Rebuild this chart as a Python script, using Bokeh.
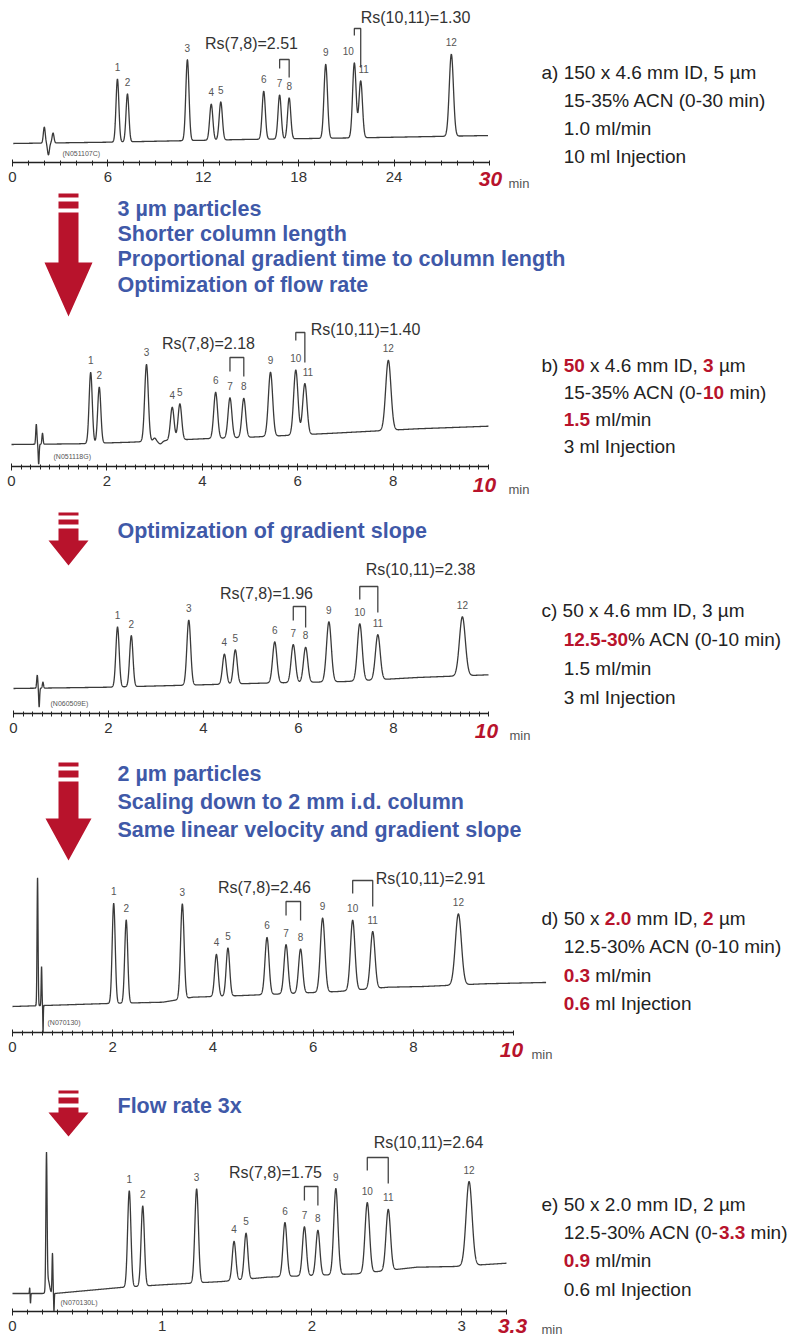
import numpy as np
from bokeh.plotting import figure
from bokeh.models import Range1d, LinearAxis, FixedTicker
from bokeh.layouts import column
from bokeh.embed import file_html
from bokeh.resources import INLINE
from bokeh.core.properties import value

# ------------------------------------------------------------------ data
peak_names = [str(i) for i in range(1, 13)]

# a) 150 x 4.6 mm, 30 min
a_rt = [6.6, 7.23, 11.0, 12.5, 13.1, 15.8, 16.8, 17.4, 19.7, 21.5, 21.9, 27.6]
a_height = [63, 48, 81, 36, 38, 48, 44, 41, 74, 75, 57, 82]
a_sigma = [0.09, 0.09, 0.10, 0.10, 0.10, 0.10, 0.10, 0.10, 0.11, 0.11, 0.11, 0.13]
a_base_t = [0, 6, 14.5, 23, 30]
a_base_y = [0, 1.3, 4, 6, 8]
a_inj_t = [2.0, 2.26, 2.55]
a_inj_h = [16, -12, 10]
a_inj_sigma = [0.06, 0.06, 0.06]
a_ticks = [0, 6, 12, 18, 24]
a_minor = list(range(0, 31))
a_span = [0.05, 29.9]
a_end = "30"
a_rs = ["Rs(7,8)=2.51", "Rs(10,11)=1.30"]
a_id = "(N051107C)"

# b) 50 x 4.6 mm, 3 um, 10 min
b_rt = [1.66, 1.84, 2.83, 3.37, 3.53, 4.28, 4.58, 4.87, 5.43, 5.96, 6.15, 7.9]
b_height = [71, 56, 77, 33, 36, 46, 40, 39, 64, 65, 51, 70]
b_sigma = [0.033, 0.033, 0.038, 0.038, 0.038, 0.04, 0.04, 0.04, 0.045, 0.045, 0.045, 0.055]
b_base_t = [0, 1.4, 2.5, 4, 5, 6.75, 8.5, 10]
b_base_y = [0, 0.7, 2.3, 5.7, 7.3, 11.3, 15.7, 18.3]
b_inj_t = [0.52, 0.57, 0.65, 3.0, 3.12]
b_inj_h = [20, -20, 11, 3, -3]
b_inj_sigma = [0.012, 0.01, 0.012, 0.03, 0.04]
b_ticks = [0, 2, 4, 6, 8]
b_minor = [round(0.2 * i, 1) for i in range(51)]
b_span = [0.0, 10.0]
b_end = "10"
b_rs = ["Rs(7,8)=2.18", "Rs(10,11)=1.40"]
b_id = "(N051118G)"

# c) gradient slope optimised
c_rt = [2.19, 2.48, 3.69, 4.44, 4.67, 5.5, 5.89, 6.15, 6.64, 7.29, 7.67, 9.45]
c_height = [60, 51, 65, 30, 34, 41, 38, 35, 60, 57, 45, 59]
c_sigma = [0.035, 0.035, 0.04, 0.04, 0.04, 0.045, 0.045, 0.045, 0.05, 0.05, 0.05, 0.062]
c_base_t = [0, 2, 4.2, 5.2, 7, 8.5, 10]
c_base_y = [0, 1.3, 4, 5.3, 7, 11, 13.7]
c_inj_t = [0.5, 0.54, 0.62]
c_inj_h = [13, -19, 6]
c_inj_sigma = [0.012, 0.01, 0.012]
c_ticks = [0, 2, 4, 6, 8]
c_minor = [round(0.2 * i, 1) for i in range(51)]
c_span = [0.0, 10.0]
c_end = "10"
c_rs = ["Rs(7,8)=1.96", "Rs(10,11)=2.38"]
c_id = "(N060509E)"

# d) 2 um, 2.0 mm i.d.
d_rt = [2.02, 2.27, 3.39, 4.07, 4.3, 5.08, 5.46, 5.75, 6.19, 6.79, 7.19, 8.9]
d_height = [100, 83, 95, 42, 48, 57, 49, 44, 74, 70, 57, 71]
d_sigma = [0.03, 0.03, 0.035, 0.035, 0.035, 0.04, 0.04, 0.04, 0.045, 0.045, 0.045, 0.06]
d_base_t = [0, 1.9, 3.0, 3.6, 4.6, 6.5, 7.5, 8.2, 9.4, 10.6]
d_base_y = [0, 3, 4.3, 9.3, 11, 15, 19.3, 20, 22.7, 24]
d_inj_t = [0.5, 0.58, 0.61]
d_inj_h = [128, 39, -27]
d_inj_sigma = [0.01, 0.008, 0.005]
d_ticks = [0, 2, 4, 6, 8]
d_minor = [round(0.2 * i, 1) for i in range(51)]
d_span = [0.0, 10.65]
d_end = "10"
d_rs = ["Rs(7,8)=2.46", "Rs(10,11)=2.91"]
d_id = "(N070130)"

# e) flow rate 3x
e_rt = [0.78, 0.87, 1.23, 1.48, 1.56, 1.82, 1.95, 2.04, 2.16, 2.37, 2.51, 3.05]
e_height = [96, 80, 94, 39, 46, 54, 49, 45, 86, 70, 61, 84]
e_sigma = [0.011, 0.011, 0.012, 0.012, 0.012, 0.013, 0.013, 0.013, 0.014, 0.015, 0.015, 0.02]
e_base_t = [0, 0.28, 0.72, 1.0, 1.4, 1.7, 2.3, 2.7, 2.95, 3.3]
e_base_y = [0, 0, 6, 8.7, 12, 16.3, 19.7, 26.3, 27, 30.3]
e_inj_t = [0.115, 0.12, 0.227, 0.237, 0.267, 0.277]
e_inj_h = [6, -10, 133, 14, 40, -18]
e_inj_sigma = [0.002, 0.002, 0.004, 0.01, 0.003, 0.002]
e_ticks = [0, 1, 2, 3]
e_minor = [round(0.1 * i, 1) for i in range(34)]
e_span = [0.0, 3.3]
e_end = "3.3"
e_rs = ["Rs(7,8)=1.75", "Rs(10,11)=2.64"]
e_id = "(N070130L)"

# conditions (text, emphasised)
a_info = [[("a) 150 x 4.6 mm ID, 5 µm", False)],
          [("15-35% ACN (0-30 min)", False)],
          [("1.0 ml/min", False)],
          [("10 ml Injection", False)]]
b_info = [[("b) ", False), ("50", True), (" x 4.6 mm ID, ", False), ("3", True), (" µm", False)],
          [("15-35% ACN (0-", False), ("10", True), (" min)", False)],
          [("1.5", True), (" ml/min", False)],
          [("3 ml Injection", False)]]
c_info = [[("c) 50 x 4.6 mm ID, 3 µm", False)],
          [("12.5-30", True), ("% ACN (0-10 min)", False)],
          [("1.5 ml/min", False)],
          [("3 ml Injection", False)]]
d_info = [[("d) 50 x ", False), ("2.0", True), (" mm ID, ", False), ("2", True), (" µm", False)],
          [("12.5-30% ACN (0-10 min)", False)],
          [("0.3", True), (" ml/min", False)],
          [("0.6", True), (" ml Injection", False)]]
e_info = [[("e) 50 x 2.0 mm ID, 2 µm", False)],
          [("12.5-30% ACN (0-", False), ("3.3", True), (" min)", False)],
          [("0.9", True), (" ml/min", False)],
          [("0.6 ml Injection", False)]]

notes_b = ["3 µm particles", "Shorter column length",
           "Proportional gradient time to column length", "Optimization of flow rate"]
notes_c = ["Optimization of gradient slope"]
notes_d = ["2 µm particles", "Scaling down to 2 mm i.d. column",
           "Same linear velocity and gradient slope"]
notes_e = ["Flow rate 3x"]

# ------------------------------------------------------------------ style
FONT = "Liberation Sans"
RED = "#B8132C"
BLUE = "#3F59A8"
INK = "#333333"
TRACE = "#3a3a3a"

W_REG = {' ': 278, '%': 889, '(': 333, ')': 333, ',': 278, '-': 333, '.': 278, '/': 278,
         'A': 667, 'C': 722, 'D': 722, 'I': 278, 'N': 722, 'a': 556, 'b': 556, 'c': 500,
         'd': 556, 'e': 556, 'i': 222, 'j': 222, 'l': 222, 'm': 833, 'n': 556, 'o': 556,
         't': 278, 'x': 500, 'µ': 556}


def text_w(s, size):
    return sum(W_REG.get(ch, 556) for ch in s) * size / 1000.0


# layout: pixel positions of each section of the page
layouts = [
    dict(zero=12, scale=15.9, top=0, bottom=192, axis=162, base=143,
         rs78=(251, 43, 59, 68, 77), rs1011=(415, 17, 28, 35, 67),
         id_pos=(62, 153), info_x=541, info_y=[72, 100, 128, 156],
         end_pos=(490, 178), min_pos=(508, 183), lab_dx=[0] * 9 + [-6, 3, 0],
         arrow=None, notes_y=[]),
    dict(zero=11, scale=47.7, top=192, bottom=497, axis=466, base=444,
         rs78=(208, 343, 357, 371, 376), rs1011=(365, 329, 332, 340, 362),
         id_pos=(53, 456), info_x=541, info_y=[365, 392, 419, 446],
         end_pos=(484, 484), min_pos=(508, 489), lab_dx=[0] * 10 + [3, 0],
         arrow=(68, [(193, 197), (201, 208)], 212, 262, 316, 10, 24),
         notes_y=[208, 233, 258, 284]),
    dict(zero=13, scale=47.5, top=497, bottom=743, axis=713, base=688,
         rs78=(266, 593, 606, 620, 627), rs1011=(420, 569, 586, 599, 612),
         id_pos=(50, 703), info_x=541, info_y=[610, 639, 668, 697],
         end_pos=(486, 730), min_pos=(509, 735), lab_dx=[0] * 12,
         arrow=(68, [(512, 515), (519, 524)], 528, 540, 565, 10, 20),
         notes_y=[530]),
    dict(zero=12, scale=50.1, top=743, bottom=1062, axis=1032, base=1006,
         rs78=(264, 887, 901, 915, 920), rs1011=(430, 878, 880, 893, 906),
         id_pos=(47, 1022), info_x=541, info_y=[918, 946, 975, 1003],
         end_pos=(511, 1049), min_pos=(531, 1054), lab_dx=[0] * 12,
         arrow=(68, [(762, 766), (770, 777)], 781, 818, 860, 10, 23),
         notes_y=[773, 801, 829]),
    dict(zero=12, scale=149.7, top=1062, bottom=1338, axis=1311, base=1293,
         rs78=(275, 1172, 1186, 1200, 1205), rs1011=(428, 1142, 1157, 1170, 1183),
         id_pos=(60, 1302), info_x=541, info_y=[1204, 1232, 1260, 1289],
         end_pos=(512, 1325), min_pos=(541, 1329), lab_dx=[0] * 12,
         arrow=(68, [(1090, 1093), (1097, 1103)], 1107, 1112, 1136, 10, 20),
         notes_y=[1105]),
]

panels = [
    (a_rt, a_height, a_sigma, a_base_t, a_base_y, a_inj_t, a_inj_h, a_inj_sigma,
     a_ticks, a_minor, a_span, a_end, a_rs, a_id, a_info, []),
    (b_rt, b_height, b_sigma, b_base_t, b_base_y, b_inj_t, b_inj_h, b_inj_sigma,
     b_ticks, b_minor, b_span, b_end, b_rs, b_id, b_info, notes_b),
    (c_rt, c_height, c_sigma, c_base_t, c_base_y, c_inj_t, c_inj_h, c_inj_sigma,
     c_ticks, c_minor, c_span, c_end, c_rs, c_id, c_info, notes_c),
    (d_rt, d_height, d_sigma, d_base_t, d_base_y, d_inj_t, d_inj_h, d_inj_sigma,
     d_ticks, d_minor, d_span, d_end, d_rs, d_id, d_info, notes_d),
    (e_rt, e_height, e_sigma, e_base_t, e_base_y, e_inj_t, e_inj_h, e_inj_sigma,
     e_ticks, e_minor, e_span, e_end, e_rs, e_id, e_info, notes_e),
]


def make_panel(data, L):
    (rt, hgt, sig, bt, by, it, ih, isg, ticks, minor, span, end_lab, rs, sid, info, notes) = data
    z, s, top, bot, ax, base = L["zero"], L["scale"], L["top"], L["bottom"], L["axis"], L["base"]
    X = lambda px: (px - z) / s
    Y = lambda py: base - py

    p = figure(frame_width=793, frame_height=bot - top,
               x_range=Range1d(X(0), X(793)), y_range=Range1d(Y(bot), Y(top)),
               output_backend="svg", toolbar_location=None,
               x_axis_location=None, y_axis_location=None, min_border=0)
    p.grid.visible = False
    p.outline_line_color = None
    p.background_fill_color = "white"
    p.border_fill_color = "white"

    # chromatogram trace
    dt = min(min(sig), min(isg)) / 5.0
    t = np.arange(span[0], span[1] + dt, dt)
    y = np.interp(t, bt, by)
    for r, h, w in zip(list(rt) + list(it), list(hgt) + list(ih), list(sig) + list(isg)):
        y = y + h * np.exp(-0.5 * ((t - r) / w) ** 2)
    p.line(t, y, line_color=TRACE, line_width=1.3)

    # peak numbers
    apex = np.interp(rt, bt, by) + np.array(hgt)
    p.text(x=[r + dx / s for r, dx in zip(rt, L["lab_dx"])], y=list(apex + 12),
           text=peak_names, text_font=value(FONT), text_font_size="10px",
           text_align="center", text_baseline="middle", text_color="#555555")

    # resolution brackets
    for (i, j), label, (cx, cy, btop, lb, rb) in zip([(6, 7), (9, 10)], rs, [L["rs78"], L["rs1011"]]):
        p.line([rt[i], rt[i], rt[j], rt[j]], [Y(lb), Y(btop), Y(btop), Y(rb)],
               line_color="#444444", line_width=1.3)
        p.text(x=[X(cx)], y=[Y(cy)], text=[label], text_font=value(FONT),
               text_font_size="16px", text_align="center", text_baseline="middle",
               text_color=INK)

    # sample id
    p.text(x=[X(L["id_pos"][0])], y=[Y(L["id_pos"][1])], text=[sid], text_font=value(FONT),
           text_font_size="7px", text_align="left", text_baseline="middle", text_color="#555555")

    # conditions on the right (segments placed one after another)
    size = 19
    space = text_w(" ", size)
    indent = text_w("a) ", size)
    for k, (segs, yy) in enumerate(zip(info, L["info_y"])):
        cur = L["info_x"] + (0 if k == 0 else indent)
        for txt, emph in segs:
            lead = len(txt) - len(txt.lstrip(" "))
            trail = len(txt) - len(txt.rstrip(" "))
            core = txt.strip(" ")
            cur += lead * space
            p.text(x=[X(cur)], y=[Y(yy)], text=[core], text_font=value(FONT),
                   text_font_size=f"{size}px", text_font_style="bold" if emph else "normal",
                   text_align="left", text_baseline="middle",
                   text_color=RED if emph else "#222222")
            cur += text_w(core, size) + trail * space

    # arrow and process notes
    if L["arrow"] is not None:
        cx, stripes, st, ht, tip, sh, hh = L["arrow"]
        for y0, y1 in stripes:
            p.quad(left=X(cx - sh), right=X(cx + sh), top=Y(y0), bottom=Y(y1),
                   fill_color=RED, line_color=None)
        xs = [cx - sh, cx + sh, cx + sh, cx + hh, cx, cx - hh, cx - sh]
        ys = [st, st, ht, ht, tip, ht, ht]
        p.patch([X(v) for v in xs], [Y(v) for v in ys], fill_color=RED, line_color=None)
    for txt, yy in zip(notes, L["notes_y"]):
        p.text(x=[X(117)], y=[Y(yy)], text=[txt], text_font=value(FONT),
               text_font_size="21.5px", text_font_style="bold", text_align="left",
               text_baseline="middle", text_color=BLUE)

    # time axis, drawn at the baseline position inside the section
    tmax = float(end_lab)
    axis = LinearAxis(ticker=FixedTicker(ticks=ticks, minor_ticks=minor), bounds=(0, tmax),
                      fixed_location=Y(ax))
    axis.axis_line_width = 1.6
    axis.axis_line_color = "#222222"
    axis.major_tick_line_color = "#222222"
    axis.minor_tick_line_color = "#222222"
    axis.major_tick_in = 3
    axis.major_tick_out = 4
    axis.minor_tick_in = 2
    axis.minor_tick_out = 3
    axis.major_label_standoff = 5
    axis.major_label_text_font = FONT
    axis.major_label_text_font_size = "15px"
    axis.major_label_text_color = INK
    p.add_layout(axis, "below")

    ex, ey = L["end_pos"]
    p.text(x=[X(ex)], y=[Y(ey)], text=[end_lab], text_font=value(FONT),
           text_font_size="21px", text_font_style="bold italic", text_color=RED,
           text_align="center", text_baseline="middle")
    mx, my = L["min_pos"]
    p.text(x=[X(mx)], y=[Y(my)], text=["min"], text_font=value(FONT),
           text_font_size="13px", text_color="#555555", text_align="left",
           text_baseline="middle")
    return p


figs = [make_panel(d, L) for d, L in zip(panels, layouts)]
page = column(*figs, spacing=0)
open("out.html", "w").write(file_html(page, INLINE))
